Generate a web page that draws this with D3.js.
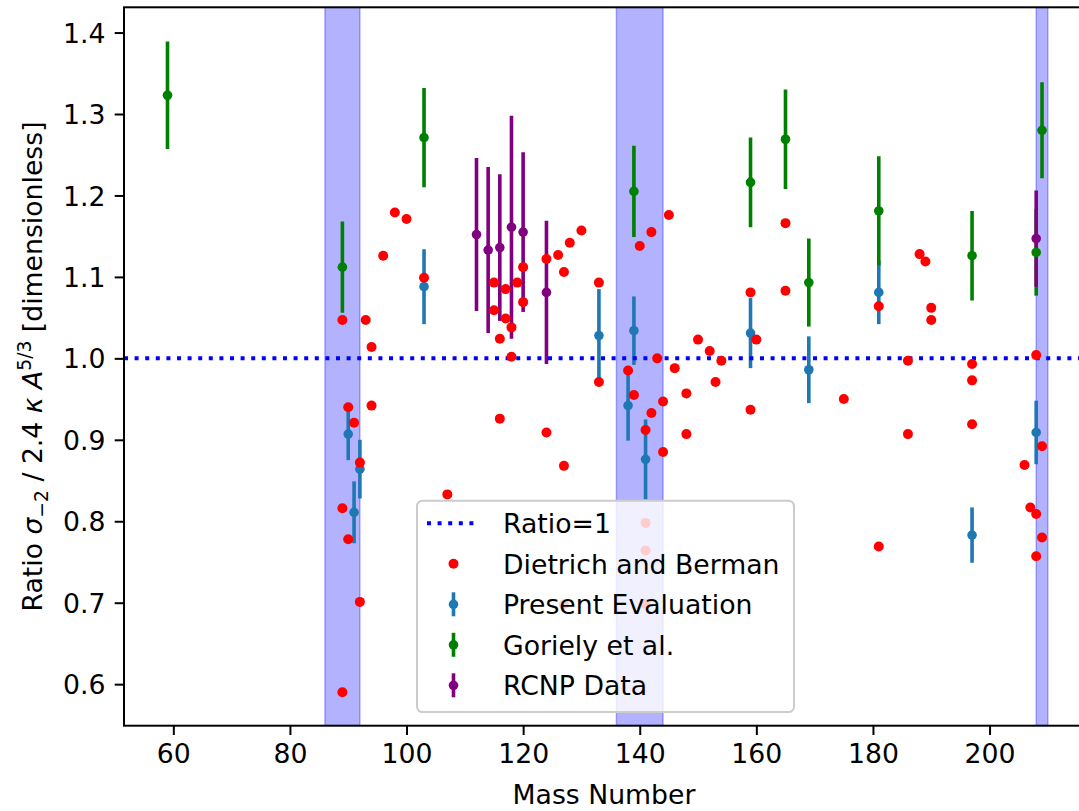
<!DOCTYPE html>
<html>
<head>
<meta charset="utf-8">
<script src="https://cdnjs.cloudflare.com/ajax/libs/d3/7.8.5/d3.min.js"></script>
<style>
  body { margin: 0; background: #fff; }
  svg { font-family: "DejaVu Sans", sans-serif; }
</style>
</head>
<body>
<div id="chart"></div>
<script>
// Dietrich and Berman (red dots)
var dietrichA = [89, 89, 89, 90, 90, 91, 92, 92, 93, 94, 94, 96, 98, 100, 103, 107,
  115, 115, 116, 116, 117, 117, 118, 118, 119, 120, 120, 124, 124, 126, 127, 127, 127,
  128, 130, 133, 133, 138, 139, 140, 141, 141, 141, 141, 142, 142, 143, 144, 144, 145,
  146, 148, 148, 150, 152, 153, 154, 159, 159, 160, 165, 165, 175, 181, 181, 186, 186,
  188, 189, 190, 190, 197, 197, 197, 206, 207, 208, 208, 208, 209, 209];
var dietrichR = [1.047, 0.816, 0.590, 0.940, 0.778, 0.921, 0.872, 0.701, 1.047, 1.014, 0.942,
  1.126, 1.179, 1.171, 1.099, 0.833,
  1.093, 1.059, 1.024, 0.926, 1.085, 1.049, 1.038, 1.002, 1.093, 1.112, 1.069, 1.122, 0.909,
  1.127, 1.106, 0.868, 0.698,
  1.142, 1.157, 1.093, 0.971, 0.985, 0.955, 1.138, 0.912, 0.798, 0.764, 0.698, 1.155, 0.933,
  1.000, 0.947, 0.885, 1.176,
  0.988, 0.957, 0.907, 1.023, 1.009, 0.971, 0.997, 1.081, 0.937, 1.023, 1.166, 1.083, 0.950,
  1.064, 0.769, 0.997, 0.907,
  1.128, 1.119, 1.062, 1.047, 0.993, 0.973, 0.919, 0.869, 0.817, 1.004, 0.809, 0.757, 0.892, 0.780];

// Present Evaluation
var presentA = [90, 91, 92, 103, 133, 138, 139, 141, 159, 169, 181, 197, 208];
var presentR = [0.907, 0.811, 0.864, 1.088, 1.028, 0.942, 1.034, 0.876, 1.031, 0.986, 1.081, 0.783, 0.909];
var presentErr = [0.032, 0.038, 0.036, 0.046, 0.057, 0.043, 0.042, 0.049, 0.043, 0.041, 0.039, 0.034, 0.039];

// Goriely et al.
var gorielyA = [59, 89, 103, 139, 159, 165, 169, 181, 197, 208, 209];
var gorielyR = [1.323, 1.112, 1.271, 1.205, 1.216, 1.269, 1.093, 1.181, 1.126, 1.130, 1.280];
var gorielyErr = [0.066, 0.056, 0.061, 0.056, 0.055, 0.061, 0.054, 0.067, 0.055, 0.053, 0.059];

// RCNP Data
var rcnpA = [112, 114, 116, 118, 120, 124, 208];
var rcnpR = [1.152, 1.133, 1.136, 1.161, 1.155, 1.081, 1.147];
var rcnpErr = [0.094, 0.102, 0.090, 0.137, 0.098, 0.088, 0.059];

// shaded mass regions
var spanStart = [86, 136, 208];
var spanEnd = [92, 144, 210];

var xTicks = [60, 80, 100, 120, 140, 160, 180, 200];
var yTicks = [0.6, 0.7, 0.8, 0.9, 1.0, 1.1, 1.2, 1.3, 1.4];

function drawChart() {

var width = 1079, height = 811,
    pLeft = 124, pRight = 1084, pTop = 7.3, pBottom = 725.7,
    fs = 26.7;

var svg = d3.select("#chart").append("svg")
    .attr("width", width)
    .attr("height", height);

var x = d3.scaleLinear().domain([51.54, 216.2]).range([pLeft, pRight]);
var y = d3.scaleLinear().domain([0.549, 1.431]).range([pBottom, pTop]);

svg.append("defs").append("clipPath").attr("id", "plotclip")
  .append("rect")
    .attr("x", pLeft).attr("y", pTop)
    .attr("width", width - pLeft).attr("height", pBottom - pTop);

var plot = svg.append("g").attr("clip-path", "url(#plotclip)");

// spans
plot.selectAll(".span")
    .data(spanStart)
  .enter().append("rect")
    .attr("class", "span")
    .attr("x", function(d) { return x(d); })
    .attr("y", pTop)
    .attr("width", function(d, i) { return x(spanEnd[i]) - x(d); })
    .attr("height", pBottom - pTop)
    .style("fill", "rgba(0,0,255,0.3)")
    .style("stroke", "rgba(0,0,255,0.3)")
    .style("stroke-width", 1.5);

var series = [
  {A: presentA, R: presentR, E: presentErr, color: "#1f77b4"},
  {A: gorielyA, R: gorielyR, E: gorielyErr, color: "#008000"},
  {A: rcnpA, R: rcnpR, E: rcnpErr, color: "#800080"}
];

// error bars first (below all markers, like matplotlib)
series.forEach(function(s) {
  plot.append("g").selectAll("line")
      .data(s.A)
    .enter().append("line")
      .attr("x1", function(d) { return x(d); })
      .attr("x2", function(d) { return x(d); })
      .attr("y1", function(d, i) { return y(s.R[i] + s.E[i]); })
      .attr("y2", function(d, i) { return y(s.R[i] - s.E[i]); })
      .style("stroke", s.color)
      .style("stroke-width", 3.6);
});

// Ratio = 1
plot.append("line")
    .attr("x1", pLeft).attr("x2", width)
    .attr("y1", y(1)).attr("y2", y(1))
    .style("stroke", "#0000ff")
    .style("stroke-width", 4)
    .style("stroke-dasharray", "4,6.6");

series.forEach(function(s) {
  plot.append("g").selectAll("circle")
      .data(s.A)
    .enter().append("circle")
      .attr("cx", function(d) { return x(d); })
      .attr("cy", function(d, i) { return y(s.R[i]); })
      .attr("r", 4.8)
      .style("fill", s.color);
});

plot.append("g").selectAll("circle")
    .data(dietrichA)
  .enter().append("circle")
    .attr("cx", function(d) { return x(d); })
    .attr("cy", function(d, i) { return y(dietrichR[i]); })
    .attr("r", 5)
    .style("fill", "#ff0000");

// frame (right side falls outside the picture)
svg.append("rect")
    .attr("x", pLeft).attr("y", pTop)
    .attr("width", width + 20 - pLeft).attr("height", pBottom - pTop)
    .style("fill", "none")
    .style("stroke", "#000")
    .style("stroke-width", 2);

// axes
var xAxis = svg.append("g")
    .attr("transform", "translate(0," + pBottom + ")")
    .call(d3.axisBottom(x).tickValues(xTicks).tickFormat(d3.format("d"))
      .tickSize(9.3).tickPadding(9.3));

var yAxis = svg.append("g")
    .attr("transform", "translate(" + pLeft + ",0)")
    .call(d3.axisLeft(y).tickValues(yTicks).tickFormat(d3.format(".1f"))
      .tickSize(9.3).tickPadding(9.3));

[xAxis, yAxis].forEach(function(a) {
  a.select(".domain").remove();
  a.selectAll(".tick line").style("stroke", "#000").style("stroke-width", 2);
  a.selectAll(".tick text")
      .style("font-family", "DejaVu Sans")
      .style("font-size", fs + "px")
      .style("fill", "#000");
});
yAxis.selectAll(".tick text").attr("dy", "0.36em");

svg.append("text")
    .attr("x", (pLeft + pRight) / 2)
    .attr("y", 804)
    .style("text-anchor", "middle")
    .style("font-size", fs + "px")
    .text("Mass Number");

var ylab = svg.append("text")
    .attr("transform", "translate(42," + ((pTop + pBottom) / 2) + ") rotate(-90)")
    .style("text-anchor", "middle")
    .style("font-size", fs + "px");
ylab.append("tspan").text("Ratio ");
ylab.append("tspan").style("font-style", "italic").text("σ");
ylab.append("tspan").attr("dy", 6).style("font-size", (fs * 0.7) + "px").text("−2");
ylab.append("tspan").attr("dy", -6).text(" / 2.4 ");
ylab.append("tspan").style("font-style", "italic").text("κ");
ylab.append("tspan").text(" ");
ylab.append("tspan").style("font-style", "italic").text("A");
ylab.append("tspan").attr("dy", -11).style("font-size", (fs * 0.7) + "px").text("5/3");
ylab.append("tspan").attr("dy", 11).text(" [dimensionless]");

// legend
var legendNames = ["Ratio=1", "Dietrich and Berman", "Present Evaluation", "Goriely et al.", "RCNP Data"];
var legendKinds = ["line", "dot", "err", "err", "err"];
var legendColors = ["#0000ff", "#ff0000", "#1f77b4", "#008000", "#800080"];

var lg = svg.append("g");
lg.append("rect")
    .attr("x", 417).attr("y", 500.7)
    .attr("width", 377).attr("height", 211.3)
    .attr("rx", 5.3).attr("ry", 5.3)
    .style("fill", "rgba(255,255,255,0.8)")
    .style("stroke", "#cccccc")
    .style("stroke-width", 2);

var rows = lg.selectAll(".legend")
    .data(legendNames)
  .enter().append("g")
    .attr("class", "legend")
    .attr("transform", function(d, i) { return "translate(0," + (523.3 + i * 40.5) + ")"; });

rows.each(function(d, i) {
  var row = d3.select(this);
  if (legendKinds[i] === "line") {
    row.append("line")
        .attr("x1", 427).attr("x2", 480)
        .style("stroke", legendColors[i])
        .style("stroke-width", 4)
        .style("stroke-dasharray", "4,6.6");
  } else if (legendKinds[i] === "dot") {
    row.append("circle").attr("cx", 453.5).attr("r", 5).style("fill", legendColors[i]);
  } else {
    row.append("line")
        .attr("x1", 453.5).attr("x2", 453.5)
        .attr("y1", -12).attr("y2", 12)
        .style("stroke", legendColors[i])
        .style("stroke-width", 3.6);
    row.append("circle").attr("cx", 453.5).attr("r", 4.8).style("fill", legendColors[i]);
  }
});

rows.append("text")
    .attr("x", 503)
    .attr("y", 9.7)
    .style("font-size", fs + "px")
    .style("fill", "#000")
    .text(function(d) { return d; });
}

drawChart();
</script>
</body>
</html>
